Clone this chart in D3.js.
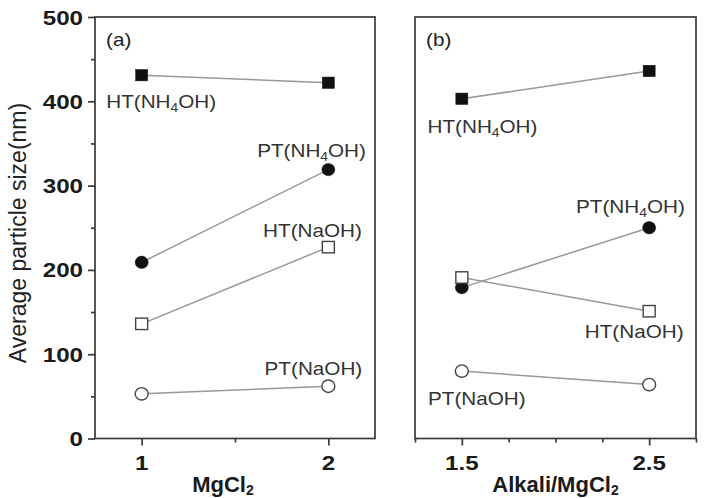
<!DOCTYPE html>
<html>
<head>
<meta charset="utf-8">
<script src="https://cdn.jsdelivr.net/npm/d3@7"></script>
<style>
  html, body { margin: 0; padding: 0; background: #fff; }
  svg { display: block; }
  text { font-family: "Liberation Sans", Arial, sans-serif; }
</style>
</head>
<body>
<svg id="chart" width="704" height="498"></svg>
<script>
// ---- data ----
const panelA_x = [1, 2];                 // MgCl2
const panelB_x = [1.5, 2.5];             // Alkali/MgCl2
const a_HT_NH4OH = [431, 422];
const a_PT_NH4OH = [209, 319];
const a_HT_NaOH  = [136, 227];
const a_PT_NaOH  = [53, 62];
const b_HT_NH4OH = [403, 436];
const b_PT_NH4OH = [179, 250];
const b_HT_NaOH  = [191, 151];
const b_PT_NaOH  = [80, 64];
const yTicks = [0, 100, 200, 300, 400, 500];
const yMinor = [50, 150, 250, 350, 450];
const aTicks = [1, 2];
const aMinor = [1.5];
const bTicks = [1.5, 2.5];
const bMinor = [1.25, 1.75, 2.0, 2.25, 2.75];

// label anchors (data space)
const labelsA = [
  {name: "HT", base: "NH", sub: "4", tail: "OH", x: 0.81, y: 392, anchor: "start"},
  {name: "PT", base: "NH", sub: "4", tail: "OH", x: 1.91, y: 334, anchor: "middle"},
  {name: "HT", base: "NaOH", sub: "", tail: "", x: 1.915, y: 239, anchor: "middle"},
  {name: "PT", base: "NaOH", sub: "", tail: "", x: 1.92, y: 75, anchor: "middle"}
];
const labelsB = [
  {name: "HT", base: "NH", sub: "4", tail: "OH", x: 1.61, y: 362, anchor: "middle"},
  {name: "PT", base: "NH", sub: "4", tail: "OH", x: 2.40, y: 267, anchor: "middle"},
  {name: "HT", base: "NaOH", sub: "", tail: "", x: 2.42, y: 119, anchor: "middle"},
  {name: "PT", base: "NaOH", sub: "", tail: "", x: 1.58, y: 40, anchor: "middle"}
];

const svg = d3.select("#chart");
const topY = 17, bottomY = 438.5;
const y = d3.scaleLinear().domain([0, 500]).range([bottomY, topY]);
const xA = d3.scaleLinear().domain([0.75, 2.25]).range([95, 375]);
const xB = d3.scaleLinear().domain([1.25, 2.75]).range([415, 696]);

const axisColor = "#3a3a3a";
const lineColor = "#999";
const markColor = "#111";
const SX = 1.15; // horizontal text stretch of the original

function stretchedText(g, px, py, anchor) {
  return g.append("g").attr("transform", `translate(${px},${py}) scale(${SX},1)`)
    .append("text").attr("text-anchor", anchor);
}

function drawPanel(x, xs, series, labels, xTicks, minorTicks, tag, xTitle, titleShift, showY) {
  const g = svg.append("g");
  const [x0, x1] = x.range();
  // frame
  g.append("rect").attr("x", x0).attr("y", topY).attr("width", x1 - x0).attr("height", bottomY - topY)
    .attr("fill", "none").attr("stroke", axisColor).attr("stroke-width", 1.7);

  // x axis ticks (outward)
  const fmt = d3.format(xTicks[0] % 1 ? ".1f" : "d");
  const ax = g.append("g").attr("transform", `translate(0,${bottomY})`)
    .call(d3.axisBottom(x).tickValues(xTicks).tickSize(7).tickFormat(""));
  ax.select(".domain").remove();
  ax.selectAll(".tick line").attr("stroke", axisColor).attr("stroke-width", 1.7);
  xTicks.forEach(t => {
    stretchedText(g, x(t), bottomY + 31, "middle")
      .attr("font-size", 21).attr("font-weight", "bold").attr("fill", "#1a1a1a").text(fmt(t));
  });
  const axm = g.append("g").attr("transform", `translate(0,${bottomY})`)
    .call(d3.axisBottom(x).tickValues(minorTicks).tickSize(4).tickFormat(""));
  axm.select(".domain").remove();
  axm.selectAll(".tick line").attr("stroke", axisColor).attr("stroke-width", 1.7);

  if (showY) {
    const ay = g.append("g").attr("transform", `translate(${x0},0)`)
      .call(d3.axisLeft(y).tickValues(yTicks).tickSize(7).tickFormat(""));
    ay.select(".domain").remove();
    ay.selectAll(".tick line").attr("stroke", axisColor).attr("stroke-width", 1.7);
    yTicks.forEach(t => {
      stretchedText(g, x0 - 12, y(t) + 7.5, "end")
        .attr("font-size", 21).attr("font-weight", "bold").attr("fill", "#1a1a1a").text(t);
    });
    const aym = g.append("g").attr("transform", `translate(${x0},0)`)
      .call(d3.axisLeft(y).tickValues(yMinor).tickSize(4).tickFormat(""));
    aym.select(".domain").remove();
    aym.selectAll(".tick line").attr("stroke", axisColor).attr("stroke-width", 1.7);
  }

  // lines
  const line = d3.line().x(d => x(d[0])).y(d => y(d[1]));
  series.forEach(s => {
    g.append("path").datum(xs.map((v, i) => [v, s.values[i]]))
      .attr("d", line).attr("fill", "none").attr("stroke", lineColor).attr("stroke-width", 1.5);
  });
  // markers
  series.forEach(s => {
    xs.forEach((v, i) => {
      const cx = x(v), cy = y(s.values[i]);
      if (s.shape === "square") {
        g.append("rect").attr("x", cx - 6).attr("y", cy - 5.7).attr("width", 12).attr("height", 11.4)
          .attr("fill", s.filled ? markColor : "#fff").attr("stroke", s.filled ? markColor : "#444")
          .attr("stroke-width", s.filled ? 0.5 : 1.4);
      } else {
        g.append("ellipse").attr("cx", cx).attr("cy", cy).attr("rx", 6.5).attr("ry", 6.2)
          .attr("fill", s.filled ? markColor : "#fff").attr("stroke", s.filled ? markColor : "#444")
          .attr("stroke-width", s.filled ? 0.5 : 1.4);
      }
    });
  });

  // labels
  labels.forEach(l => {
    const t = stretchedText(g, x(l.x), y(l.y), l.anchor)
      .attr("font-size", 18).attr("fill", "#333");
    t.append("tspan").text(l.name + "(" + l.base);
    if (l.sub) {
      t.append("tspan").attr("font-size", 12).attr("dy", 4).text(l.sub);
      t.append("tspan").attr("dy", -4).text(l.tail + ")");
    } else {
      t.append("tspan").text(")");
    }
  });

  // panel tag
  stretchedText(g, x0 + 11, topY + 29, "start").attr("font-size", 18).attr("fill", "#222").text(tag);

  // x title
  const xt = g.append("text").attr("x", (x0 + x1) / 2 + titleShift).attr("y", 492).attr("text-anchor", "middle")
    .attr("font-size", 22).attr("font-weight", "bold").attr("fill", "#1a1a1a");
  xt.append("tspan").text(xTitle);
  xt.append("tspan").attr("font-size", 14).attr("dy", 3).text("2");
}

drawPanel(xA, panelA_x, [
  {values: a_HT_NH4OH, shape: "square", filled: true},
  {values: a_PT_NH4OH, shape: "circle", filled: true},
  {values: a_HT_NaOH, shape: "square", filled: false},
  {values: a_PT_NaOH, shape: "circle", filled: false}
], labelsA, aTicks, aMinor, "(a)", "MgCl", -12, true);

drawPanel(xB, panelB_x, [
  {values: b_HT_NH4OH, shape: "square", filled: true},
  {values: b_PT_NH4OH, shape: "circle", filled: true},
  {values: b_HT_NaOH, shape: "square", filled: false},
  {values: b_PT_NaOH, shape: "circle", filled: false}
], labelsB, bTicks, bMinor, "(b)", "Alkali/MgCl", 0, false);

// y title
svg.append("text").attr("transform", `translate(26,233) rotate(-90)`)
  .attr("text-anchor", "middle").attr("font-size", 23).attr("fill", "#222")
  .text("Average particle size(nm)");
</script>
</body>
</html>
